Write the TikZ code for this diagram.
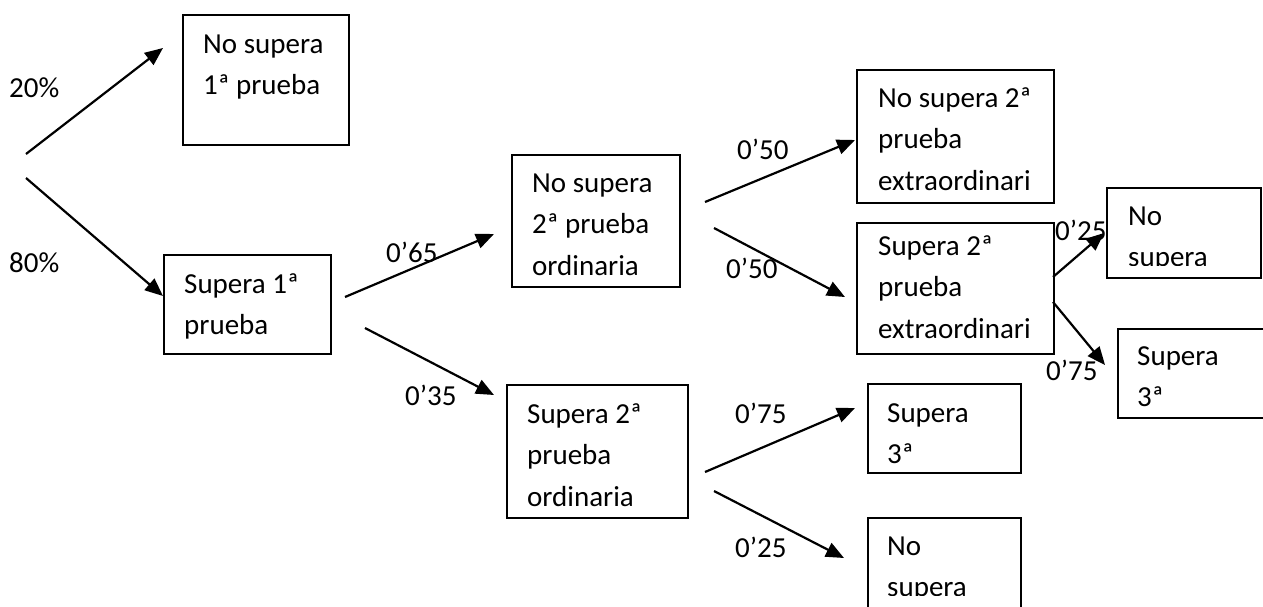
\documentclass[tikz,border=0pt]{standalone}
\usepackage{fontspec}
\setmainfont{Carlito}
\usetikzlibrary{arrows.meta}
\newcommand\boxlines[4]{%
  \foreach \t [count=\i] in {#4}
    \node[ln] (#1-\i) at (#2, {#3+41.5*(\i-1)}) {\t};}
\begin{document}
\begin{tikzpicture}[x=1pt,y=-1pt,
  box/.style={draw, line width=1.9pt, inner sep=0pt, anchor=north west},
  ln/.style={font=\fontsize{29}{41.5}\selectfont, inner sep=0pt, anchor=base west},
  lbl/.style={font=\fontsize{29}{41.5}\selectfont, inner sep=0pt, anchor=base west},
  arr/.style={line width=2.2pt, -{Triangle[length=18pt,width=15pt]}}
]
\clip (0,0) rectangle (1263,606);
% boxes
\node[box, minimum width=166pt, minimum height=130pt] (A) at (182,14) {};
\node[box, minimum width=167pt, minimum height=99pt]  (B) at (163,254) {};
\node[box, minimum width=168pt, minimum height=132pt] (C) at (511,154) {};
\node[box, minimum width=181pt, minimum height=133pt] (D) at (506,384) {};
\node[box, minimum width=197pt, minimum height=133pt] (E) at (856,69) {};
\node[box, minimum width=197pt, minimum height=131pt] (F) at (856,222) {};
\node[box, minimum width=154pt, minimum height=90pt]  (G) at (1106,187) {};
\node[box, minimum width=170pt, minimum height=89pt]  (H) at (1117,328) {};
\node[box, minimum width=153pt, minimum height=89pt]  (I) at (867,383) {};
\node[box, minimum width=153pt, minimum height=110pt] (J) at (867,517) {};
% box texts
\boxlines{A}{203}{53}{No supera,1ª prueba}
\boxlines{B}{184}{293}{Supera 1ª,prueba}
\boxlines{C}{532}{192}{No supera,2ª prueba,ordinaria}
\boxlines{D}{527}{423}{Supera 2ª,prueba,ordinaria}
\boxlines{E}{878}{107}{No supera 2ª,prueba,extraordinari}
\boxlines{F}{878}{255}{Supera 2ª,prueba,extraordinari}
\begin{scope}
  \clip (1106,187) rectangle (1260,265);
  \boxlines{G}{1128}{225}{No,supera}
\end{scope}
\boxlines{H}{1137}{365}{Supera,3ª}
\boxlines{I}{887}{422}{Supera,3ª}
\begin{scope}
  \clip (867,517) rectangle (1020,595);
  \boxlines{J}{887}{555}{No,supera}
\end{scope}
% connector end points
\coordinate (s1) at (26,154);   \coordinate (t1) at (163,48);
\coordinate (s2) at (26,178);   \coordinate (t2) at (163,296);
\coordinate (s3) at (345,297);  \coordinate (t3) at (494,234);
\coordinate (s4) at (365,328);  \coordinate (t4) at (494,395);
\coordinate (s5) at (705,202);  \coordinate (t5) at (855,140);
\coordinate (s6) at (714,228);  \coordinate (t6) at (845,297);
\coordinate (s7) at (705,472);  \coordinate (t7) at (855,408);
\coordinate (s8) at (714,491);  \coordinate (t8) at (844,558);
\coordinate (s9) at (1053,277); \coordinate (t9) at (1104,233);
\coordinate (s10) at (1053,302);\coordinate (t10) at (1105,365);
\foreach \k in {1,...,10} \draw[arr] (s\k) -- (t\k);
% labels
\node[lbl] (l1) at (9,97) {20\%};
\node[lbl] (l2) at (9,272) {80\%};
\node[lbl] (l3) at (386,262) {0’65};
\node[lbl] (l4) at (405,405) {0’35};
\node[lbl] (l5) at (737,159) {0’50};
\node[lbl] (l6) at (726,278) {0’50};
\node[lbl] (l7) at (735,423) {0’75};
\node[lbl] (l8) at (735,557) {0’25};
\node[lbl] (l9) at (1055,240) {0’25};
\node[lbl] (l10) at (1046,380) {0’75};
\end{tikzpicture}
\end{document}
